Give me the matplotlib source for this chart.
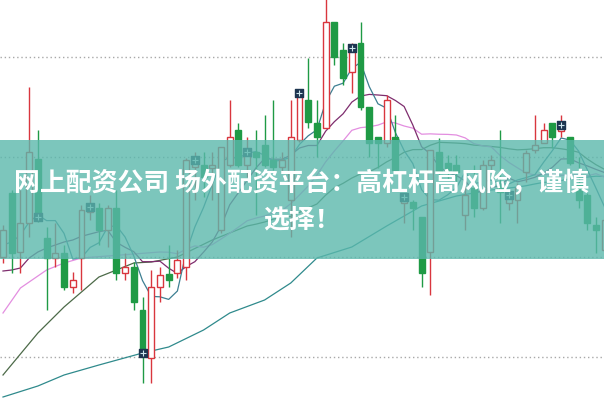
import numpy as np
import pandas as pd
import matplotlib
matplotlib.use('Agg')
import matplotlib.pyplot as plt
from matplotlib.patches import Rectangle


# daily candles (price units, no axis shown)
opens = [14.3, 20.7, 14.8, 17.7, 24.1, 16.2, 14.2, 14.7, 11.3, 14.2,
         18.8, 19.2, 17.0, 19.2, 12.7, 13.3, 9.0, 4.2, 11.3, 12.6,
         12.7, 13.3, 23.3, 23.5, 23.2, 17.0, 23.5, 27.0, 23.5, 24.8,
         25.5, 24.0, 23.3, 20.0, 26.0, 30.0, 27.7, 27.2, 37.8, 35.0,
         32.8, 35.7, 29.3, 26.3, 25.7, 26.3, 19.7, 19.8, 18.3, 14.8,
         24.8, 23.7, 23.5, 18.5, 21.2, 19.2, 23.5, 21.2, 19.7, 20.0,
         22.8, 25.0, 25.7, 27.7, 26.9, 26.3, 21.7, 20.5, 17.5, 15.0]
highs = [17.5, 21.0, 21.0, 31.3, 27.0, 17.3, 17.7, 15.5, 12.8, 19.5,
         20.5, 19.7, 19.5, 21.0, 14.7, 13.8, 10.3, 13.0, 13.3, 15.5,
         15.0, 24.2, 24.8, 24.8, 24.8, 25.3, 30.0, 27.7, 26.3, 27.0,
         28.5, 30.0, 24.8, 30.0, 31.0, 34.2, 30.0, 40.5, 37.8, 35.7,
         35.7, 37.8, 29.3, 26.3, 30.5, 28.5, 20.7, 20.0, 18.3, 25.0,
         26.2, 24.5, 24.5, 22.0, 23.5, 24.0, 24.5, 27.0, 20.7, 21.7,
         25.0, 28.5, 27.7, 27.7, 28.5, 26.3, 24.3, 20.7, 18.3, 18.5]
lows = [13.7, 12.7, 12.7, 16.3, 17.8, 9.0, 13.3, 11.0, 10.7, 11.0,
        18.0, 15.5, 15.3, 12.0, 12.0, 9.0, 1.7, 1.7, 9.8, 11.3,
        12.2, 12.0, 20.0, 20.3, 20.0, 16.7, 23.3, 23.3, 22.3, 18.5,
        23.3, 23.0, 22.7, 16.3, 25.8, 27.2, 24.3, 27.2, 33.5, 31.5,
        30.7, 29.0, 24.3, 23.2, 25.3, 22.7, 17.7, 17.0, 11.3, 10.5,
        22.3, 22.0, 21.5, 17.0, 18.3, 19.0, 23.0, 17.7, 19.0, 17.7,
        21.8, 24.7, 25.7, 25.2, 26.3, 23.5, 19.2, 17.0, 14.7, 14.5]
closes = [17.0, 14.7, 17.7, 24.8, 18.3, 14.2, 14.7, 11.3, 12.0, 19.0,
          19.3, 17.0, 19.2, 12.7, 13.3, 9.8, 4.7, 11.3, 12.5, 12.0,
          14.0, 24.0, 24.0, 22.3, 23.5, 25.3, 26.3, 23.5, 24.8, 24.3,
          23.5, 23.3, 24.0, 26.3, 30.7, 27.8, 26.3, 37.8, 34.3, 32.2,
          35.2, 29.3, 25.7, 25.7, 30.0, 23.0, 20.3, 19.2, 12.7, 25.0,
          22.7, 23.0, 22.8, 20.5, 19.2, 23.5, 24.0, 20.8, 20.5, 21.2,
          24.7, 25.5, 27.0, 26.3, 27.5, 23.7, 20.0, 17.7, 17.0, 18.0]

# candles carrying the dark signal box
signal_idx = [4, 10, 16, 22, 28, 34, 40, 46, 58, 64]

# start of the averages, before there is enough history on screen
ma5_head_x = [0, 1, 2, 3]
ma5_head = [15.5, 15.8, 16.5, 17.8]
ma10_head_x = [0, 1, 2, 3, 4, 5, 6, 7, 8]
ma10_head = [12.9, 13.0, 13.2, 14.2, 14.8, 15.2, 15.5, 15.8, 16.0]
ma20_head_x = [0, 2, 5, 7, 9, 12, 15, 18]
ma20_head = [8.7, 11.2, 13.0, 13.7, 14.2, 14.4, 14.6, 14.8]
ma30_head_x = [0, 4, 7, 11, 13, 15, 17, 20, 24, 28]
ma30_head = [2.5, 6.7, 9.3, 12.3, 13.0, 13.7, 13.8, 14.3, 16.0, 17.4]
ma60_head_x = [0, 4, 7, 11, 16, 19, 23, 26, 30, 33, 36, 40, 44, 48, 52, 56]
ma60_head = [0.3, 1.4, 2.5, 3.5, 4.7, 5.3, 7.0, 8.7, 10.0, 11.7, 14.2,
             15.3, 17.4, 19.4, 20.4, 21.0]

grid_levels = [4.3, 14.3, 24.3, 34.3]

title_1 = '网上配资公司 场外配资平台：高杠杆高风险，谨慎'
title_2 = '选择！'

UP = '#d9363e'
DOWN = '#1f9a45'


def ma_line(head_x, head_y, window):
    rolled = pd.Series(closes).rolling(window).mean()
    xs = list(head_x) + list(range(window - 1, len(closes)))
    ys = list(head_y) + list(rolled.iloc[window - 1:])
    return xs, ys


fig = plt.figure(figsize=(6.04, 4.01), dpi=100)
ax = fig.add_axes([0, 0, 1, 1])
ax.set_xlim(-0.344, 68.92)
ax.set_ylim(-0.1, 40.0)

ax.set_xticks([])
ax.set_yticks(grid_levels)
ax.tick_params(left=False, labelleft=False)
ax.grid(axis='y', color='#a8a8a8', linestyle=(0, (1, 2)), linewidth=1.0)
for sp in ax.spines.values():
    sp.set_visible(False)

# moving averages
lines = [
    (ma_line(ma60_head_x, ma60_head, 60), '#2f8a8c'),
    (ma_line(ma30_head_x, ma30_head, 30), '#4c6a48'),
    (ma_line(ma20_head_x, ma20_head, 20), '#e38ee0'),
    (ma_line(ma10_head_x, ma10_head, 10), '#7e2d6e'),
    (ma_line(ma5_head_x, ma5_head, 5), '#3d7f92'),
]
for (xs, ys), col in lines:
    ax.plot(xs, ys, color=col, lw=0.9, zorder=2)

# candles
w = 0.68
for i, (o, h, l, c) in enumerate(zip(opens, highs, lows, closes)):
    up = c >= o
    col = UP if up else DOWN
    lo, hi = min(o, c), max(o, c)
    ax.vlines(i, l, lo, color=col, lw=1.0, zorder=3)
    ax.vlines(i, hi, h, color=col, lw=1.0, zorder=3)
    ax.add_patch(Rectangle((i - w / 2, lo), w, max(hi - lo, 0.15),
                           facecolor='white' if up else col,
                           edgecolor=col, lw=1.0, zorder=4))

sig_x = np.array(signal_idx)
sig_y = np.array(closes)[sig_x]
ax.scatter(sig_x, sig_y, marker='s', s=30, color='#1d3550', zorder=5)
ax.scatter(sig_x, sig_y, marker='+', s=14, color='#cfe6ee', lw=0.8, zorder=6)

# caption band over the chart
fig.add_artist(Rectangle((0, 0.354), 1, 0.297, transform=fig.transFigure,
                         facecolor='#5bb8ac', alpha=0.8, lw=0, zorder=10))
font = ['Noto Sans CJK SC', 'DejaVu Sans']
fig.text(0.5, 0.543, title_1, ha='center', va='center', color='white',
         fontsize=18.6, fontweight='bold', family=font, zorder=11)
fig.text(0.5, 0.451, title_2, ha='center', va='center', color='white',
         fontsize=18.6, fontweight='bold', family=font, zorder=11)

fig.savefig('out.png', dpi=100)
